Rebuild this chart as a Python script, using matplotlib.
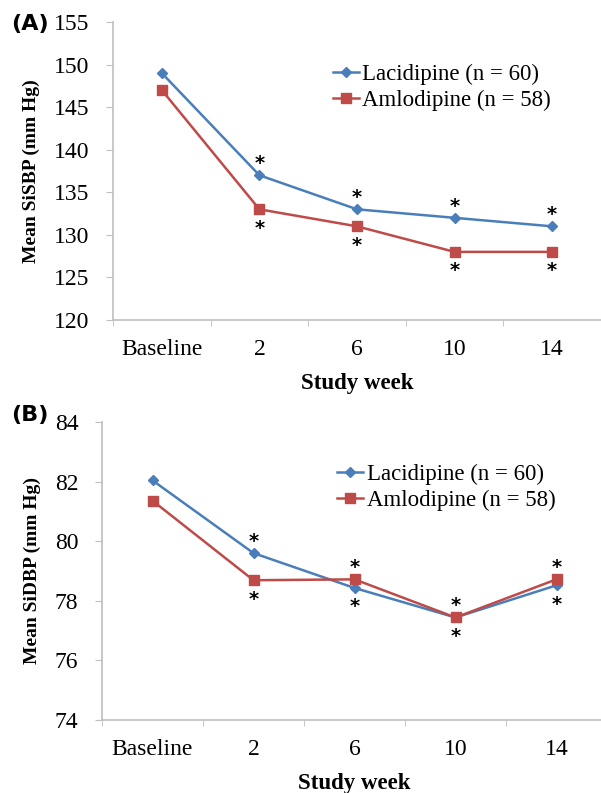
import numpy as np
import matplotlib.pyplot as plt

weeks = ['Baseline', '2', '6', '10', '14']

sbp_laci = [149, 137, 133, 132, 131]
sbp_amlo = [147, 133, 131, 128, 128]
dbp_laci = [82.04, 79.6, 78.43, 77.44, 78.52]
dbp_amlo = [81.36, 78.69, 78.72, 77.44, 78.72]

# which points get a star above (+1) / below (-1), per series
sbp_star_laci = [0, 1, 1, 1, 1]
sbp_star_amlo = [0, -1, -1, -1, -1]
dbp_star_laci = [0, 1, -1, -1, -1]
dbp_star_amlo = [0, -1, 1, 1, 1]

blue = '#4a7ebb'
red = '#be4b48'
grey = '#bfbfbf'
serif = 'Liberation Serif'

fig = plt.figure(figsize=(6.01, 7.93), dpi=100)
W, H = 601, 793


def px_axes(left, right, top, bottom):
    return fig.add_axes([left / W, 1 - bottom / H, (right - left) / W, (bottom - top) / H])


def panel(ax, laci, amlo, st_laci, st_amlo, ylim, yticks, ylabel, legpos):
    x = np.arange(len(weeks))
    ax.plot(x, laci, color=blue, lw=1.8, marker='D', ms=5, label='Lacidipine (n = 60)')
    ax.plot(x, amlo, color=red, lw=1.8, marker='s', ms=7, label='Amlodipine (n = 58)')
    for vals, stars in ((laci, st_laci), (amlo, st_amlo)):
        for i, (v, s) in enumerate(zip(vals, stars)):
            if s == 0:
                continue
            ax.annotate('*', (i, v), xytext=(0, -17.5 if s < 0 else 4.5),
                        textcoords='offset points', ha='center', va='baseline',
                        fontsize=14, fontweight='bold', family='DejaVu Sans')
    ax.set_xlim(-0.5, len(weeks) - 0.5)
    ax.set_ylim(*ylim)
    ax.set_yticks(yticks)
    ax.set_xticks(x)
    ax.set_xticklabels(weeks, family=serif, fontsize=17)
    ax.set_xticks(np.arange(len(weeks) + 1) - 0.5, minor=True)
    ax.tick_params(axis='x', which='major', length=0, pad=14)
    ax.tick_params(axis='x', which='minor', length=4, color=grey, direction='out')
    ax.tick_params(axis='y', length=5, color=grey, labelsize=17, pad=12)
    for lab in ax.get_yticklabels():
        lab.set_family(serif)
    for s in ('top', 'right'):
        ax.spines[s].set_visible(False)
    for s in ('left', 'bottom'):
        ax.spines[s].set_color(grey)
        ax.spines[s].set_linewidth(1.2)
    ax.set_ylabel(ylabel, family=serif, fontsize=14, fontweight='bold', labelpad=10)
    ax.set_xlabel('Study week', family=serif, fontsize=16.5, fontweight='bold', labelpad=9)
    ax.legend(loc='upper left', bbox_to_anchor=legpos, frameon=False,
              prop={'family': serif, 'size': 16.5}, handlelength=1.15,
              handletextpad=0.15, borderpad=0, labelspacing=0.2, borderaxespad=0)


axA = px_axes(113, 601, 22, 320)
panel(axA, sbp_laci, sbp_amlo, sbp_star_laci, sbp_star_amlo, (120, 155),
      np.arange(120, 156, 5), 'Mean SiSBP (mm Hg)', (0.45, 0.86))

axB = px_axes(102, 607, 422, 720)
panel(axB, dbp_laci, dbp_amlo, dbp_star_laci, dbp_star_amlo, (74, 84),
      np.arange(74, 85, 2), 'Mean SiDBP (mm Hg)', (0.465, 0.86))

fig.text(11 / W, 1 - 24 / H, '(A)', fontsize=16, fontweight='bold', family='DejaVu Sans', va='center')
fig.text(11 / W, 1 - 415 / H, '(B)', fontsize=16, fontweight='bold', family='DejaVu Sans', va='center')

fig.savefig('out.png', dpi=100)
